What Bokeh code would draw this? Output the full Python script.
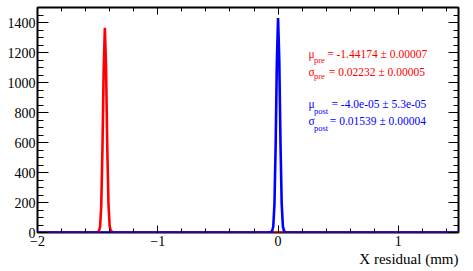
from bokeh.plotting import figure
from bokeh.models import (LinearAxis, SingleIntervalTicker, Range1d, Label,
                          CustomJSTickFormatter, Title)
from bokeh.embed import file_html
from bokeh.resources import INLINE

# ---- data ----
x_lo, x_hi = -2.0, 1.5            # histogram range (mm)
red_x = [-1.52, -1.51, -1.50, -1.49, -1.48, -1.47, -1.46, -1.45, -1.44,
         -1.43, -1.42, -1.41, -1.40, -1.39, -1.38, -1.37, -1.36]
red_y = [0, 2, 4, 9, 36, 180, 560, 1080, 1365, 1100, 570, 190, 40, 11, 5, 2, 0]
blue_x = [-0.08, -0.07, -0.06, -0.05, -0.04, -0.03, -0.02, -0.01, 0.00,
          0.01, 0.02, 0.03, 0.04, 0.05, 0.06, 0.07, 0.08]
blue_y = [0, 1, 3, 8, 40, 190, 590, 1140, 1430, 1150, 600, 195, 42, 9, 3, 1, 0]
x_ticks_major = 1.0
y_ticks_major = 200
x_minor = 5
y_minor = 4
xlabel_over = {-2: "\u22122", -1: "\u22121", 0: "0", 1: "1"}
pre_lines = [("\u03bc", "pre", "= -1.44174 \u00b1 0.00007"),
             ("\u03c3", "pre", "= 0.02232 \u00b1 0.00005")]
post_lines = [("\u03bc", "post", "= -4.0e-05 \u00b1 5.3e-05"),
              ("\u03c3", "post", "= 0.01539 \u00b1 0.00004")]
x_title = "X residual (mm)"

RED = "#ff0000"
BLUE = "#0000ff"
FONT = "Liberation Serif"

p = figure(width=473, height=271, x_range=Range1d(x_lo, x_hi),
           y_range=Range1d(0, 1500), output_backend="svg",
           toolbar_location=None, x_axis_type=None, y_axis_type=None,
           min_border_left=37, min_border_right=15, min_border_top=7,
           min_border_bottom=39)
p.outline_line_color = "black"
p.outline_line_width = 2
p.background_fill_color = "white"
p.border_fill_color = "white"

blank = CustomJSTickFormatter(code="return ''")


def style(ax, tick_in, minor_in, labels=True):
    ax.axis_line_color = None
    ax.major_tick_in = tick_in
    ax.major_tick_out = 0
    ax.minor_tick_in = minor_in
    ax.minor_tick_out = 0
    ax.major_tick_line_color = "black"
    ax.minor_tick_line_color = "black"
    ax.major_label_text_font = FONT
    ax.major_label_text_color = "black"
    ax.major_label_text_font_size = "14px"
    if not labels:
        ax.formatter = blank
        ax.major_label_standoff = 0


xb = LinearAxis(ticker=SingleIntervalTicker(interval=x_ticks_major, num_minor_ticks=x_minor))
style(xb, 7, 4)
xb.major_label_overrides = xlabel_over
xb.major_label_standoff = 3
p.add_layout(xb, "below")

xt = LinearAxis(ticker=SingleIntervalTicker(interval=x_ticks_major, num_minor_ticks=x_minor))
style(xt, 7, 4, labels=False)
p.add_layout(xt, "above")

yl = LinearAxis(ticker=SingleIntervalTicker(interval=y_ticks_major, num_minor_ticks=y_minor))
style(yl, 11, 6)
yl.major_label_standoff = 2
p.add_layout(yl, "left")

yr = LinearAxis(ticker=SingleIntervalTicker(interval=y_ticks_major, num_minor_ticks=y_minor))
style(yr, 10, 5, labels=False)
p.add_layout(yr, "right")

# x-axis title, right-aligned to the frame end (ROOT style)
p.add_layout(Title(text=x_title, align="right", text_font=FONT, text_font_size="15px",
                   text_font_style="normal", text_color="black", standoff=0, offset=0),
             "below")

# histograms drawn as polylines through bin centres, zero elsewhere
p.line([x_lo] + red_x + [x_hi], [0] + red_y + [0], line_color=RED, line_width=2.6)
p.line([x_lo] + blue_x + [x_hi], [0] + blue_y + [0], line_color=BLUE, line_width=2.6)

# text box
sym_x = [0.2525, 0.2525]
sub_x = [0.298, 0.298]
eq_x_pre = [0.408, 0.4217]
eq_x_post = [0.444, 0.43]
y_pre = [(1193, 1153), (1069, 1042)]
y_post = [(858, 813), (742, 700)]


def put(lines, eqx, ys, color):
    for (sym, sub, rest), ex, (ym, ys_), sx, bx in zip(lines, eqx, ys, sym_x, sub_x):
        p.add_layout(Label(x=sx, y=ym, text=sym, text_font=FONT, text_font_size="11.5px",
                           text_color=color, text_baseline="middle", text_align="left"))
        p.add_layout(Label(x=bx, y=ys_, text=sub, text_font=FONT, text_font_size="8.5px",
                           text_color=color, text_baseline="middle", text_align="left"))
        p.add_layout(Label(x=ex, y=ym, text=rest, text_font=FONT, text_font_size="11.5px",
                           text_color=color, text_baseline="middle", text_align="left"))


put(pre_lines, eq_x_pre, y_pre, RED)
put(post_lines, eq_x_post, y_post, BLUE)

open("out.html", "w").write(file_html(p, INLINE))
